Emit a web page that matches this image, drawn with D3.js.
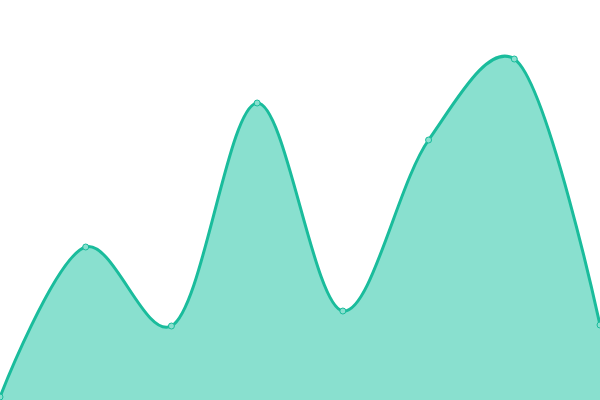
<!DOCTYPE html>
<html>
<head>
<meta charset="utf-8">
<script src="https://cdn.jsdelivr.net/npm/d3@7"></script>
<style>
  body { margin: 0; background: #fff; }
  svg { display: block; }
</style>
</head>
<body>
<svg id="chart"></svg>
<script>
var categories = ["A", "B", "C", "D", "E", "F", "G", "H"];
var values = [3, 153, 74, 297, 89, 260, 341, 75];

var width = 600, height = 400;

var svg = d3.select("#chart")
  .attr("width", width)
  .attr("height", height);

var x = d3.scalePoint()
  .domain(categories)
  .range([0, width]);

var y = d3.scaleLinear()
  .domain([0, 400])
  .range([height, 0]);

var data = categories.map(function (c, i) {
  return { cat: c, val: values[i] };
});

var curve = d3.curveCatmullRom.alpha(0.25);

var area = d3.area()
  .x(function (d) { return x(d.cat); })
  .y0(height)
  .y1(function (d) { return y(d.val); })
  .curve(curve);

var line = d3.line()
  .x(function (d) { return x(d.cat); })
  .y(function (d) { return y(d.val); })
  .curve(curve);

svg.append("path")
  .datum(data)
  .attr("d", area)
  .attr("fill", "#89e0cf");

svg.append("path")
  .datum(data)
  .attr("d", line)
  .attr("fill", "none")
  .attr("stroke", "#1abc9c")
  .attr("stroke-width", 3);

svg.selectAll(".dot")
  .data(data)
  .enter()
  .append("circle")
  .attr("class", "dot")
  .attr("cx", function (d) { return x(d.cat); })
  .attr("cy", function (d) { return y(d.val); })
  .attr("r", 3)
  .attr("fill", "#89e0cf")
  .attr("stroke", "#1abc9c")
  .attr("stroke-width", 1);
</script>
</body>
</html>
